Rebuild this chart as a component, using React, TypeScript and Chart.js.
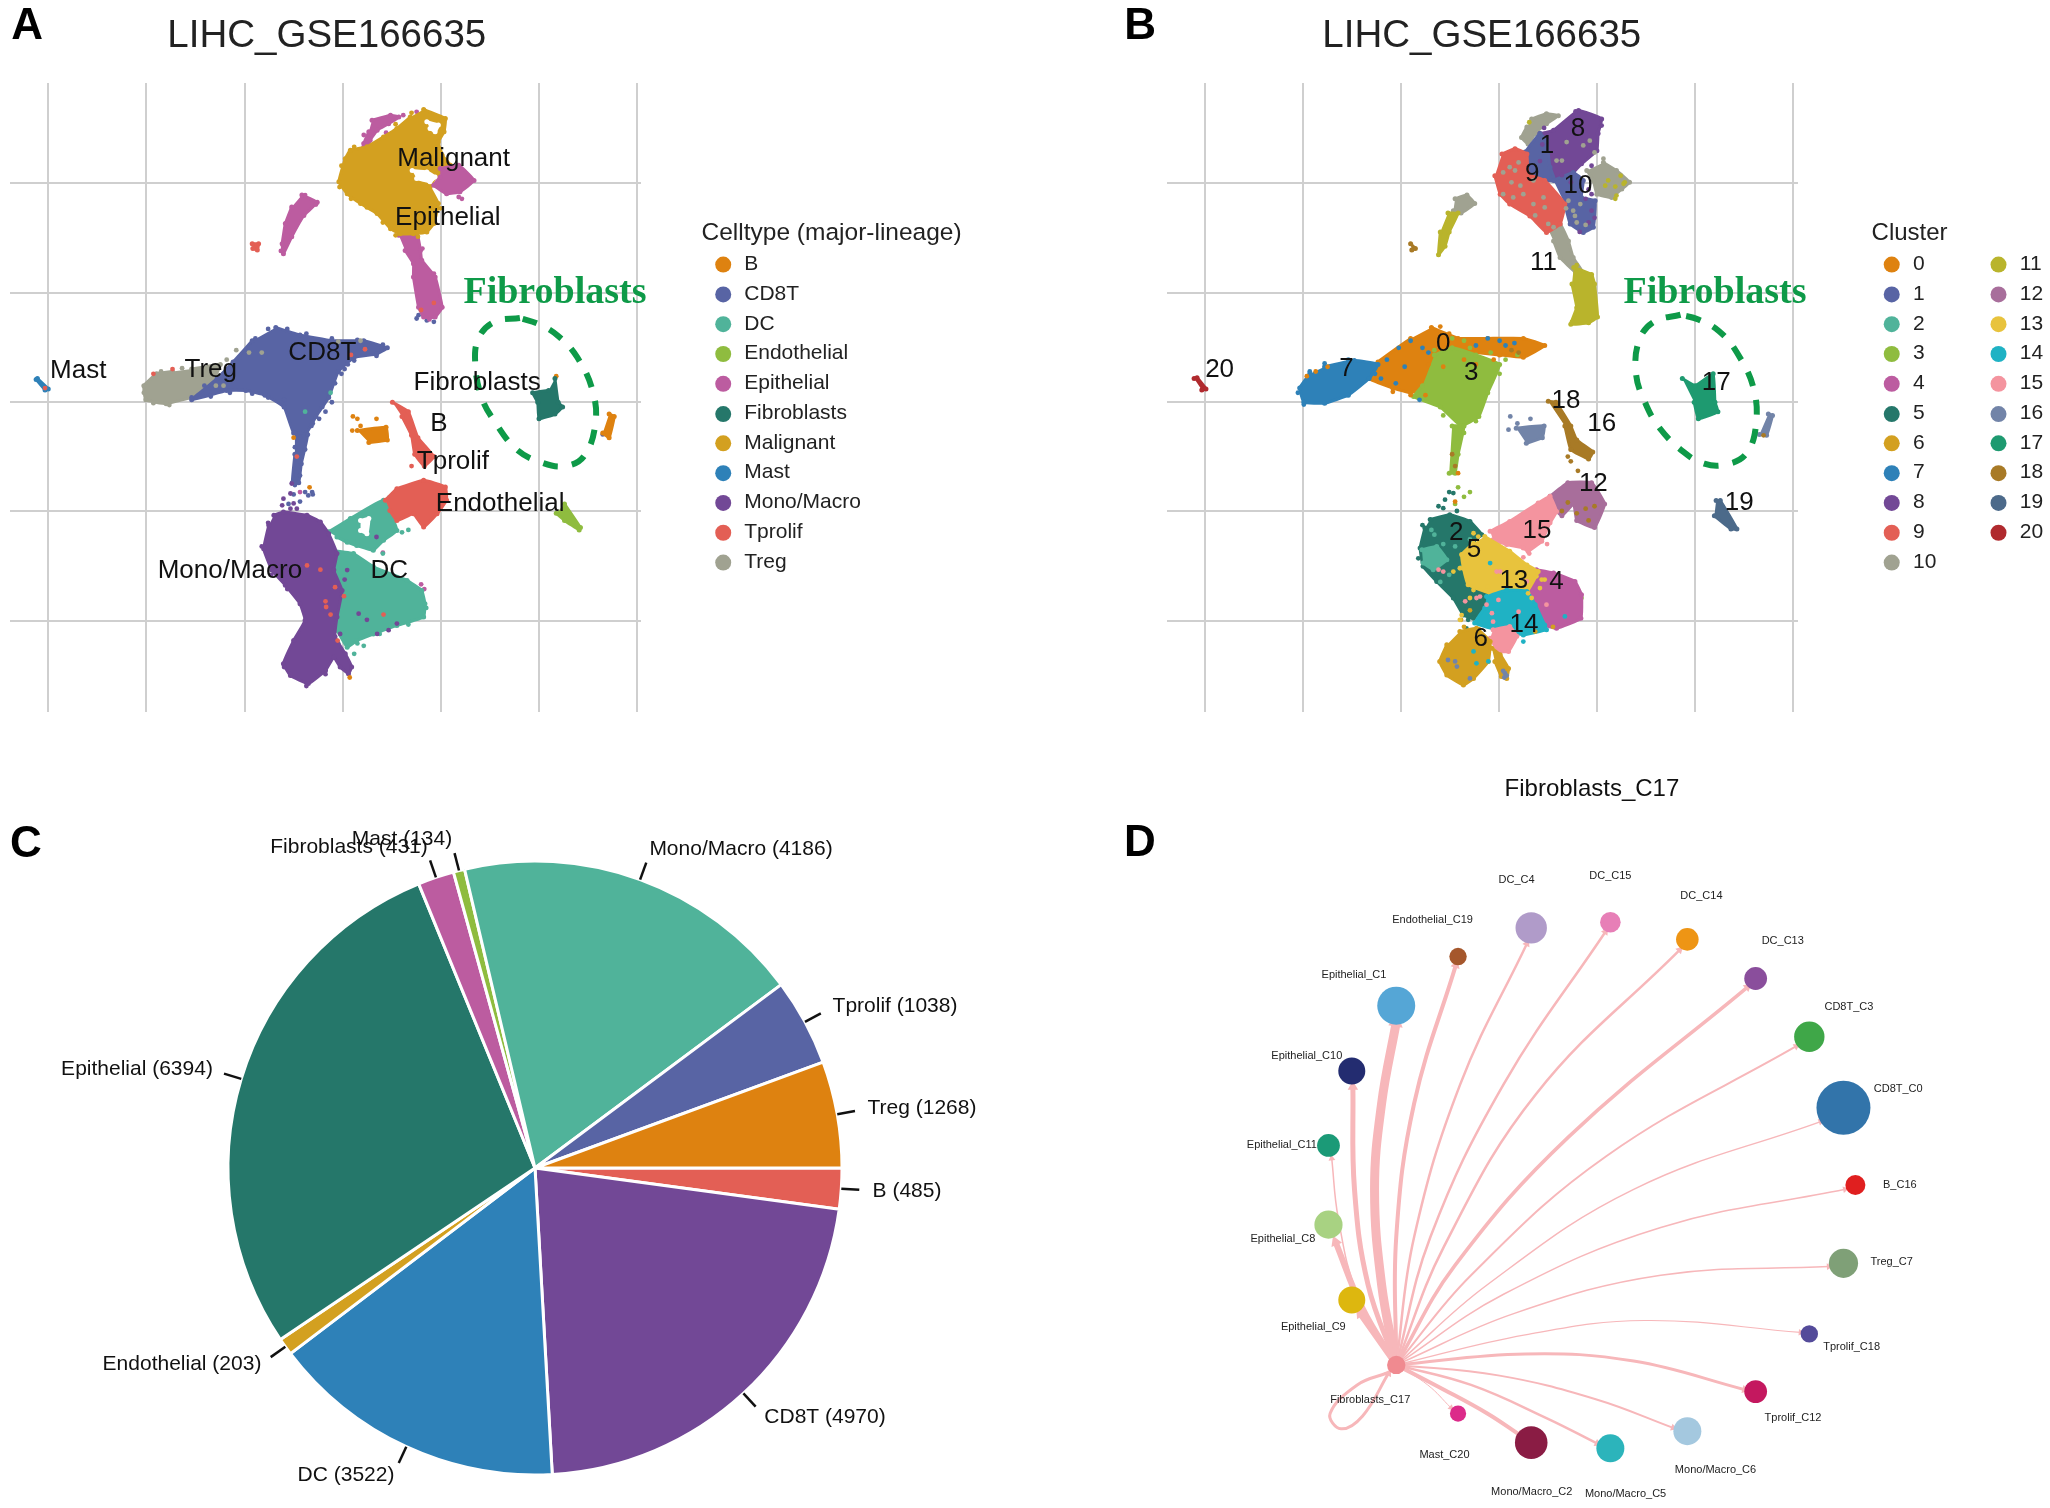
import React, { useEffect, useRef } from "react";
import { Chart, registerables } from "chart.js";
Chart.register(...registerables);

type Pt = number[];
const SANS = "'Liberation Sans'";
const SERIF = "'Liberation Serif'";

// ---------- shared colours ----------
const CB = "#DE8210", CCD8 = "#5864A4", CDC = "#50B39A", CEND = "#8FBC3F", CEPI = "#BC5CA0", CFIB = "#25776A";
const CMAL = "#D3A020", CMAST = "#2E81B8", CMONO = "#724896", CTP = "#E35F55", CTREG = "#A0A291";
const C11 = "#B9B42C", C12 = "#A86E9B", C13 = "#E8C33D", C14 = "#1FB2C4", C15 = "#F4949F", C16 = "#7284A8", C17 = "#1E9A70", C18 = "#A87A26", C19 = "#4C6A8A", C20 = "#B02A2E";
const GREEN = "#0E9A48";

// ---------- panel A values ----------
const aGridX = [75, 229, 383, 537, 691, 845, 998];
const aGridY = [387, 618, 849, 1081, 1313];
const aCelltypes = ["B", "CD8T", "DC", "Endothelial", "Epithelial", "Fibroblasts", "Malignant", "Mast", "Mono/Macro", "Tprolif", "Treg"];
const aCelltypeColors = [CB, CCD8, CDC, CEND, CEPI, CFIB, CMAL, CMAST, CMONO, CTP, CTREG];
const aEpiTop = [[583,254],[612,243],[625,247],[609,261],[591,275],[580,296],[575,314],[570,303],[578,278]];
const aEpiLobe = [[690,356],[719,349],[743,381],[721,405],[700,409],[680,391],[690,374]];
const aEpiTrunk = [[625,497],[653,490],[659,529],[661,550],[682,585],[693,649],[682,670],[664,670],[656,649],[648,585],[648,557],[635,529]];
const aEpiCrescent = [[473,412],[497,427],[476,455],[457,500],[444,536],[442,515],[447,472],[457,437]];
const aEpiDots = [[632,243],[653,236],[570,310],[719,416],[724,420],[662,525],[680,578],[478,412],[495,432],[440,530],[673,675],[605,280],[570,285],[470,1040],[600,1168],[660,1235],[665,1245]];
const aMalignant = [[664,231],[698,250],[696,278],[687,300],[693,328],[706,349],[685,370],[674,395],[687,430],[680,472],[669,490],[648,494],[627,494],[612,483],[591,451],[565,430],[544,409],[531,384],[541,335],[549,317],[575,310],[601,289],[622,271],[643,247]];
const aMalEdge = [[535,350],[532,395],[550,420],[575,438],[600,470],[620,497],[655,500],[690,440],[645,238],[620,262],[555,310],[690,320],[678,458]];
const aGapTop = [[669,257],[687,264],[682,278],[674,271]];
const aGapMid = [[646,360],[669,363],[682,374],[674,384],[653,377]];
const aGapDc = [[565,1100],[578,1096],[575,1128],[565,1121]];
const aCd8 = [[432,692],[470,708],[520,720],[570,720],[607,735],[590,748],[555,755],[530,785],[515,840],[495,880],[480,915],[460,915],[445,860],[415,835],[385,825],[355,825],[300,845],[340,800],[365,765],[395,720]];
const aCd8Stem = [[462,915],[482,918],[472,980],[468,1020],[458,1020],[462,960]];
const aCd8Dots = [[535,790],[545,770],[520,850],[510,870],[500,885],[490,895],[470,925],[462,945],[478,950],[468,975],[470,1005],[462,1025],[460,1045],[478,1040],[490,1045],[452,1065],[470,1060],[653,673],[656,666],[669,677],[680,680],[950,912],[945,918],[598,735],[483,1047],[489,1040]];
const aCd8Edge = [[300,840],[320,815],[350,790],[375,755],[400,715],[420,695],[450,695],[480,705],[520,715],[560,718],[600,728],[590,752],[555,762],[540,780],[525,810],[505,860],[488,900],[445,845],[420,840],[395,832],[360,830],[330,838]];
const aTreg = [[300,780],[345,770],[335,800],[310,835],[260,853],[228,845],[225,815],[245,790],[270,785]];
const aTregDots = [[370,740],[390,745],[355,760],[410,745],[530,722],[565,720],[350,815],[338,815],[252,785],[285,778],[225,830],[240,852],[265,856]];
const aMast = [[58,800],[75,822],[70,824],[56,802]];
const aDcMain = [[517,1163],[554,1170],[585,1198],[638,1227],[661,1248],[666,1276],[664,1304],[622,1322],[585,1340],[559,1354],[544,1368],[528,1332],[517,1311],[533,1255],[525,1198]];
const aDcStrip = [[515,1124],[549,1096],[601,1057],[622,1121],[601,1142],[585,1163],[559,1153],[544,1146],[528,1135]];
const aDcEdge = [[668,1285],[640,1320],[595,1340],[560,1360],[530,1360],[560,1145],[610,1052],[630,1125],[600,1170],[555,1382],[510,1365],[570,1365],[478,870],[518,830],[640,1120]];
const aMono = [[429,1089],[444,1082],[481,1089],[502,1103],[515,1128],[528,1170],[523,1205],[536,1248],[528,1304],[525,1346],[541,1382],[551,1410],[546,1424],[533,1410],[523,1389],[510,1417],[483,1445],[455,1428],[444,1403],[460,1354],[478,1311],[470,1276],[447,1237],[426,1205],[413,1160],[421,1110]];
const aMonoDots = [[457,1022],[455,1043],[444,1054],[442,1068],[460,1064],[455,1075],[465,1075],[544,1205],[562,1297],[533,1340],[591,1340],[622,1318],[609,1332],[540,1225],[575,1310],[420,1105],[410,1155],[425,1215],[450,1245],[445,1410],[480,1450],[510,1425],[455,1425],[590,1135]];
const aTprolifBlob = [[604,1057],[622,1033],[664,1015],[698,1029],[700,1057],[685,1086],[664,1114],[648,1086],[622,1100],[611,1079]];
const aTprolifTail = [[615,850],[640,870],[655,925],[680,965],[665,985],[650,960],[645,920],[630,880]];
const aTprolifSmall = [[395,515],[405,515],[403,528],[396,525]];
const aTprolifDots = [[481,1195],[502,1204],[525,1241],[510,1271],[511,1283],[518,1299],[539,1260],[601,1299],[529,1354],[240,790],[270,780],[550,750],[572,738],[465,965],[70,820],[645,985],[660,655],[680,640]];
const aBCell = [[560,910],[605,903],[607,930],[578,935]];
const aBRight = [[955,875],[963,880],[955,925],[945,915]];
const aBDots = [[553,880],[560,885],[565,900],[590,885],[552,910],[460,925],[485,1030],[548,1432],[872,795]];
const aFibro = [[870,800],[875,850],[882,860],[870,875],[845,885],[843,850],[835,830],[860,825]];
const aEndo = [[885,1065],[910,1115],[908,1120],[885,1100],[872,1085]];
const aEllipse = [[815,672],[775,680],[750,715],[745,770],[755,840],[775,890],[810,950],[850,978],[885,985],[915,965],[933,900],[930,830],[905,755],[875,710],[845,685],[815,672]];
const aLabels = [["Malignant",711,335],["Epithelial",702,460],["Fibroblasts",748,810],["Mast",122,783],["Treg",330,782],["CD8T",505,745],["B",688,895],["Tprolif",710,975],["Endothelial",784,1065],["Mono/Macro",360,1207],["DC",610,1207]] as [string, number, number][];

// ---------- panel B values ----------
const bGridX = [143, 308, 473, 639, 804, 969, 1135];
const bGridY = [387, 618, 849, 1081, 1313];
const bClusters = ["0","1","2","3","4","5","6","7","8","9","10","11","12","13","14","15","16","17","18","19","20"];
const bClusterColors = [CB, CCD8, CDC, CEND, CEPI, CFIB, CMAL, CMAST, CMONO, CTP, CTREG, C11, C12, C13, C14, C15, C16, C17, C18, C19, C20];
const b10Top = [[694,251],[719,240],[739,244],[719,261],[700,282],[688,304],[677,290],[686,268]];
const b10Lobe = [[815,343],[837,360],[859,385],[846,399],[829,417],[804,410],[798,381],[787,360]];
const b10Trunk = [[719,477],[742,473],[756,509],[764,544],[780,575],[768,575],[742,544],[731,509]];
const b10Cres = [[565,420],[585,412],[598,430],[575,450],[562,445]];
const b10Dots = [[646,364],[657,353],[666,360],[672,343],[646,410],[663,417],[680,410],[697,431],[714,417],[722,473],[731,480],[697,381],[716,438],[753,300],[745,339],[736,339],[781,307],[792,297],[756,424],[764,445],[776,431],[767,456],[752,440],[770,470],[785,475],[660,385],[675,392],[700,455],[815,335],[800,322]];
const b8 = [[708,282],[731,275],[773,233],[812,251],[806,282],[804,318],[778,346],[764,364],[736,378],[725,353],[719,297]];
const b1 = [[683,321],[708,282],[719,297],[725,353],[733,381],[708,381],[688,371]];
const b1Low = [[731,381],[764,364],[781,381],[778,417],[801,424],[798,480],[781,491],[759,473],[750,431]];
const b8Dots = [[785,420],[795,445],[790,470],[775,490],[760,385],[715,270],[745,370],[795,350],[790,400],[795,410],[800,460],[768,235],[812,265],[712,305],[708,340]];
const b9 = [[644,325],[666,314],[686,325],[688,367],[716,381],[750,431],[742,473],[719,491],[691,456],[657,431],[641,410],[632,371]];
const b11Cres = [[553,450],[570,450],[555,490],[548,520],[537,538],[540,490]];
const b11Trunk = [[765,565],[795,580],[800,600],[805,670],[790,682],[760,685],[770,650],[762,600]];
const b11Dots = [[823,381],[835,394],[818,392],[851,385],[849,388],[837,413],[835,420],[844,371],[690,258],[770,560],[762,680]];
const b18Small = [[490,515],[498,525],[492,528]];
const b7 = [[345,775],[395,762],[435,770],[420,800],[385,835],[345,852],[310,850],[303,820],[320,790]];
const b7Dots = [[450,760],[470,735],[490,720],[620,715],[640,720],[650,730],[600,730],[520,745],[440,800],[465,810],[310,855],[300,830],[320,785],[345,768],[385,760],[430,790],[480,775],[510,735],[665,725],[505,845]];
const b0 = [[525,692],[570,715],[620,715],[680,715],[716,730],[680,755],[640,750],[600,745],[560,740],[530,760],[510,820],[490,830],[460,820],[420,800],[435,765],[490,715]];
const b0Dots = [[330,785],[315,795],[350,775],[545,775],[520,770],[565,1060],[570,1000],[580,760],[600,770],[630,760],[515,835],[490,835],[460,828],[540,690],[555,705]];
const b3 = [[530,750],[560,735],[600,750],[640,770],[620,830],[605,880],[575,900],[540,860],[495,838],[510,815]];
const b3Trunk = [[560,900],[580,900],[570,960],[565,1000],[555,1000]];
const b3Dots = [[570,1030],[580,1050],[565,1065],[590,1040],[640,790],[650,760],[670,750],[776,1257],[778,1264],[560,715],[580,720],[530,740],[590,735],[625,745],[545,878],[600,890],[580,915],[570,935]];
const b20 = [[125,800],[130,798],[145,822],[138,824]];
const b16Mid = [[668,905],[715,900],[712,925],[685,937]];
const b16Right = [[1093,875],[1100,878],[1090,920],[1078,918]];
const b16Dots = [[658,880],[670,895],[692,885],[655,908],[553,1395],[568,1409],[565,1398],[649,1423],[590,1434],[648,1432],[652,1428],[646,1418]];
const b18 = [[722,848],[735,850],[760,900],[770,930],[797,955],[790,970],[760,950],[750,900]];
const b18Dots = [[755,965],[772,995],[760,975],[785,1075],[800,1070],[745,1080],[660,740],[672,745],[1085,920],[755,1062],[770,1085],[790,1100],[565,985],[560,960]];
const b12 = [[725,1049],[755,1020],[795,1020],[817,1065],[800,1115],[770,1100],[765,1065],[745,1090],[736,1081]];
const b15 = [[624,1123],[657,1102],[705,1063],[725,1049],[736,1081],[725,1105],[711,1144],[688,1165],[680,1158],[652,1151],[629,1141]];
const b15Low = [[629,1331],[657,1324],[669,1345],[655,1377],[638,1377],[624,1349]];
const b15Dots = [[618,1278],[627,1296],[607,1261],[638,1268],[641,1208],[635,1208],[686,1229],[537,1204],[545,1208],[582,1271],[601,1264],[629,1314],[672,1293],[719,1278],[680,1178],[690,1170],[720,1150]];
const b19 = [[1005,1058],[1012,1058],[1040,1118],[1030,1118],[1002,1090]];
const b17 = [[948,800],[970,815],[1000,790],[1003,850],[1008,870],[975,885],[968,850]];
const b5 = [[523,1098],[556,1088],[590,1102],[610,1130],[596,1144],[576,1172],[582,1208],[618,1257],[615,1285],[596,1307],[579,1300],[562,1264],[534,1229],[511,1197],[506,1158],[514,1116]];
const b5Dots = [[537,1070],[548,1056],[562,1042],[545,1074],[568,1080],[555,1040],[582,1289],[587,1310],[584,1328],[503,1180],[510,1110]];
const b2Patch = [[509,1162],[534,1155],[551,1183],[528,1204],[511,1190]];
const b2Dots = [[530,1130],[545,1150],[565,1155],[555,1215],[540,1230],[575,1200],[525,1120],[590,1140]];
const b13 = [[615,1134],[657,1165],[686,1194],[705,1208],[686,1250],[657,1250],[624,1254],[587,1236],[579,1201],[576,1172],[596,1148]];
const b13Dots = [[596,1127],[604,1134],[596,1247],[590,1264],[573,1201],[562,1208],[576,1300],[573,1310],[711,1225],[716,1225],[702,1218],[688,1254],[694,1264],[708,1243],[620,1240]];
const b4 = [[702,1204],[731,1211],[767,1229],[778,1257],[777,1307],[736,1328],[716,1321],[700,1278],[686,1250]];
const b14 = [[618,1261],[652,1247],[686,1250],[700,1278],[716,1321],[719,1331],[680,1342],[657,1335],[635,1331],[598,1317],[615,1285]];
const b14Dots = [[624,1190],[601,1402],[621,1398],[680,1356],[750,1303],[596,1377]];
const b6 = [[573,1335],[601,1328],[624,1356],[621,1398],[596,1434],[579,1448],[551,1427],[539,1398],[551,1363]];
const b6Tail = [[627,1370],[641,1384],[655,1413],[652,1434],[643,1430],[632,1398]];
const b6Dots = [[575,1310],[590,1290],[605,1330],[580,1325],[730,1325],[700,1335]];
const bEllipse = [[945,665],[900,680],[875,720],[870,790],[885,850],[910,905],[950,955],[985,980],[1020,982],[1055,960],[1072,900],[1068,820],[1040,745],[1010,700],[975,675],[945,665]];
const bLabels = [["8",772,272],["1",720,308],["9",695,368],["10",772,393],["11",714,555],["0",545,727],["3",592,787],["7",382,780],["20",168,781],["18",752,846],["16",812,895],["17",1005,808],["12",798,1022],["19",1044,1063],["15",703,1122],["2",567,1127],["5",597,1162],["13",664,1227],["4",736,1230],["14",681,1320],["6",608,1350]] as [string, number, number][];

// ---------- panel C values ----------
const pieCategories = ["B", "CD8T", "DC", "Endothelial", "Epithelial", "Fibroblasts", "Mast", "Mono/Macro", "Tprolif", "Treg"];
const pieValues = [485, 4970, 3522, 203, 6394, 431, 134, 4186, 1038, 1268];
const pieColors = [CTP, CMONO, CMAST, CMAL, CFIB, CEPI, CEND, CDC, CCD8, CB];
const pieLabelAnchors = [[907,431],[825,657],[346,715],[182,604],[137,309],[349,87],[402,79],[741,89],[895,246],[922,348]];

// ---------- panel D values ----------
const netNames = ["DC_C4","DC_C15","DC_C14","DC_C13","CD8T_C3","CD8T_C0","B_C16","Treg_C7","Tprolif_C18","Tprolif_C12","Mono/Macro_C6","Mono/Macro_C5","Mono/Macro_C2","Mast_C20","Fibroblasts_C17","Epithelial_C9","Epithelial_C8","Epithelial_C11","Epithelial_C10","Epithelial_C1","Endothelial_C19"];
const netX = [611,757,899,1025,1124,1187,1209,1187,1124,1025,899,757,611,476,362,280,237,237,280,362,476];
const netY = [352,340,376,458,580,729,891,1055,1203,1324,1407,1443,1431,1370,1268,1132,974,808,652,515,412];
const netSize = [15.7,10.3,11.3,11.4,15.2,27,10,14.6,8.7,11.4,14,14,16.3,8.1,9.2,13.5,14.1,11.4,13.5,19,8.7];
const netColors = ["#B09BC9","#E77FB7","#EE9515","#8A4E9C","#3FA748","#3274AA","#E01F1F","#7FA077","#544B9A","#C4185F","#A4C8DF","#2CB4BB","#8A1C44","#DC2B8A","#F08A90","#DDB70F","#A8D282","#1B9A77","#232C70","#55A6D6","#A5572C"];
const netLabelX = [584,757,925,1075,1197,1288,1291,1276,1202,1094,951,785,612,451,314,209,153,151,197,284,429];
const netLabelY = [252,243,284,379,517,689,890,1053,1230,1380,1488,1538,1534,1456,1342,1189,1003,808,620,451,336];
const edgeC4 = [[362,1268],[395,1000],[480,680],[603,385]];
const edgeC15 = [[362,1268],[425,1000],[560,680],[748,360]];
const edgeC14 = [[362,1268],[450,1020],[620,700],[885,398]];
const edgeC13 = [[362,1268],[470,1060],[680,790],[1010,476]];
const edgeC3 = [[362,1268],[500,1080],[750,830],[1100,600]];
const edgeC0 = [[362,1268],[530,1100],[800,900],[1145,758]];
const edgeB16 = [[362,1268],[560,1120],[850,980],[1190,900]];
const edgeTreg = [[362,1268],[580,1160],[850,1080],[1160,1062]];
const edgeC18 = [[362,1268],[600,1205],[820,1175],[1108,1200]];
const edgeC12 = [[362,1268],[600,1245],[800,1260],[1005,1320]];
const edgeC6 = [[362,1268],[550,1290],[730,1340],[873,1400]];
const edgeC5 = [[362,1268],[500,1310],[640,1380],[733,1433]];
const edgeC2 = [[362,1268],[450,1320],[530,1370],[590,1415]];
const edgeMast = [[362,1268],[420,1310],[463,1358]];
const edgeSelf = [[345,1285],[290,1310],[240,1370],[260,1402],[300,1375],[348,1285]];
const edgeE9 = [[362,1268],[295,1160]];
const edgeE8 = [[362,1268],[300,1150],[250,1010]];
const edgeE11 = [[362,1268],[290,1120],[255,960],[243,835]];
const edgeE10 = [[362,1268],[310,1100],[285,900],[282,685]];
const edgeE1 = [[362,1268],[335,1100],[322,900],[335,720],[362,550]];
const edgeE19 = [[362,1268],[362,1000],[395,720],[472,430]];
const netEdges = [edgeC4,edgeC15,edgeC14,edgeC13,edgeC3,edgeC0,edgeB16,edgeTreg,edgeC18,edgeC12,edgeC6,edgeC5,edgeC2,edgeMast,edgeSelf,edgeE9,edgeE8,edgeE11,edgeE10,edgeE1,edgeE19];
const netEdgeWeights = [2.5,2.5,2.5,3.5,2,1.5,1.5,1.5,1.2,3,2,2.5,4,1,3,6,6,1.5,5,9,4];

// ---------- layers ----------
type Layer = { color: string; shapes?: Pt[][]; dots?: Pt[] };
const panelALayers: Layer[] = [
  { color: CTREG, shapes: [aTreg] },
  { color: CCD8, shapes: [aCd8, aCd8Stem], dots: [...aCd8Dots, ...aCd8Edge] },
  { color: CEPI, shapes: [aEpiTop, aEpiTrunk, aEpiCrescent], dots: aEpiDots },
  { color: CMAL, shapes: [aMalignant], dots: aMalEdge },
  { color: "#FFFFFF", shapes: [aGapTop, aGapMid] },
  { color: CEPI, shapes: [aEpiLobe] },
  { color: CTREG, dots: aTregDots },
  { color: CMAST, shapes: [aMast] },
  { color: CDC, shapes: [aDcMain, aDcStrip], dots: aDcEdge },
  { color: "#FFFFFF", shapes: [aGapDc] },
  { color: CTP, shapes: [aTprolifBlob, aTprolifTail, aTprolifSmall] },
  { color: CMONO, shapes: [aMono], dots: aMonoDots },
  { color: CTP, dots: aTprolifDots },
  { color: CB, shapes: [aBCell, aBRight], dots: aBDots },
  { color: CFIB, shapes: [aFibro] },
  { color: CEND, shapes: [aEndo] },
];
const panelBLayers: Layer[] = [
  { color: CTREG, shapes: [b10Top, b10Lobe, b10Trunk, b10Cres] },
  { color: CMONO, shapes: [b8] },
  { color: CCD8, shapes: [b1, b1Low] },
  { color: CMONO, dots: b8Dots },
  { color: CTP, shapes: [b9] },
  { color: CTREG, dots: b10Dots },
  { color: C11, shapes: [b11Cres, b11Trunk], dots: b11Dots },
  { color: C18, shapes: [b18Small, b18] },
  { color: CB, shapes: [b0] },
  { color: CMAST, shapes: [b7] },
  { color: CEND, shapes: [b3, b3Trunk], dots: b3Dots },
  { color: CB, dots: b0Dots },
  { color: CMAST, dots: b7Dots },
  { color: C20, shapes: [b20] },
  { color: C16, shapes: [b16Mid, b16Right] },
  { color: C12, shapes: [b12] },
  { color: C15, shapes: [b15] },
  { color: C18, dots: b18Dots },
  { color: C19, shapes: [b19] },
  { color: C17, shapes: [b17] },
  { color: CFIB, shapes: [b5], dots: b5Dots },
  { color: CDC, shapes: [b2Patch], dots: b2Dots },
  { color: CEPI, shapes: [b4] },
  { color: C13, shapes: [b13] },
  { color: C14, shapes: [b14] },
  { color: C15, shapes: [b15Low], dots: b15Dots },
  { color: CMAL, shapes: [b6, b6Tail], dots: b6Dots },
  { color: C13, dots: b13Dots },
  { color: C14, dots: b14Dots },
  { color: C16, dots: b16Dots },
];

const toXY = (pts: Pt[]) => pts.map(([x, y]) => ({ x, y }));

function umapDatasets(layers: Layer[], ellipse: Pt[]) {
  const out: any[] = [];
  for (const l of layers) {
    for (const s of l.shapes || []) {
      out.push({ data: toXY(s), showLine: true, fill: "shape", backgroundColor: l.color, borderColor: l.color, borderWidth: 3, borderJoinStyle: "round", pointRadius: 2.5, pointBackgroundColor: l.color, pointBorderWidth: 0, tension: 0.1 });
    }
    if (l.dots) out.push({ data: toXY(l.dots), showLine: false, pointRadius: 2.4, pointBackgroundColor: l.color, pointBorderWidth: 0 });
  }
  out.push({ data: toXY(ellipse), showLine: true, fill: false, borderColor: GREEN, borderWidth: 6, borderDash: [15, 14], pointRadius: 0, tension: 0.4 });
  out.forEach((d, i) => (d.order = -i));
  return out;
}

type TextItem = { t: string; x: number; y: number; font: string; color?: string; align?: CanvasTextAlign };

const textsPlugin = (items: TextItem[], dots: { x: number; y: number; r: number; color: string }[] = []) => ({
  id: "panelTexts",
  afterDraw(chart: any) {
    const { ctx, scales } = chart;
    const px = (v: number) => (scales.x ? scales.x.getPixelForValue(v) : v);
    const py = (v: number) => (scales.y ? scales.y.getPixelForValue(v) : v);
    ctx.save();
    for (const d of dots) {
      ctx.fillStyle = d.color;
      ctx.beginPath();
      ctx.arc(px(d.x), py(d.y), d.r, 0, Math.PI * 2);
      ctx.fill();
    }
    ctx.textBaseline = "middle";
    for (const it of items) {
      ctx.font = it.font;
      ctx.fillStyle = it.color || "#111";
      ctx.textAlign = it.align || "center";
      ctx.fillText(it.t, px(it.x), py(it.y));
    }
    ctx.restore();
  },
});

const hiddenScale = (min: number, max: number, grid: number[], reverse = false) => ({
  type: "linear" as const,
  min,
  max,
  reverse,
  border: { display: false },
  grid: { color: "#cfcfcf", lineWidth: 2, drawTicks: false },
  ticks: { display: false },
  afterBuildTicks: (s: any) => { s.ticks = grid.map((value) => ({ value })); },
});

const W = 1025, H = 760, H2 = 748;
const ROWS = [558, 621, 684, 747, 810, 874, 936, 999, 1062, 1125, 1188];

function makeA(c: HTMLCanvasElement) {
  const labels = aLabels.map(([t, x, y]) => ({ t, x, y, font: `26px ${SANS}` }));
  const items: TextItem[] = [
    { t: "A", x: 42, y: 56, font: `bold 44px ${SANS}`, color: "#000" },
    { t: "LIHC_GSE166635", x: 512, y: 76, font: `38.5px ${SANS}`, color: "#222" },
    { t: "Fibroblasts", x: 870, y: 619, font: `bold 38px ${SERIF}`, color: GREEN },
    { t: "Celltype (major-lineage)", x: 1100, y: 492, font: `24.5px ${SANS}`, color: "#222", align: "left" },
    ...labels,
    ...aCelltypes.map((t, i) => ({ t, x: 1167, y: ROWS[i], font: `21px ${SANS}`, color: "#222", align: "left" as CanvasTextAlign })),
  ];
  const dots = aCelltypes.map((_, i) => ({ x: 1134, y: ROWS[i] + 1, r: 8, color: aCelltypeColors[i] }));
  return new Chart(c, {
    type: "line",
    data: { datasets: umapDatasets(panelALayers, aEllipse) },
    options: {
      responsive: false, animation: false, events: [],
      layout: { autoPadding: false, padding: { left: 10, right: W - 641, top: 83, bottom: H - 712 } },
      plugins: { legend: { display: false }, tooltip: { enabled: false }, title: { display: false } },
      scales: { x: hiddenScale(15, 1005, aGridX), y: hiddenScale(175, 1505, aGridY, true) },
    },
    plugins: [textsPlugin(items, dots)],
  } as any);
}

function makeB(c: HTMLCanvasElement) {
  const cols = bClusters.map((_, i) => (i < 11 ? { d: 1301, t: 1337, r: i } : { d: 1481, t: 1517, r: i - 11 }));
  const items: TextItem[] = [
    { t: "B", x: 34, y: 56, font: `bold 44px ${SANS}`, color: "#000" },
    { t: "LIHC_GSE166635", x: 610, y: 76, font: `38.5px ${SANS}`, color: "#222" },
    { t: "Fibroblasts", x: 1003, y: 619, font: `bold 38px ${SERIF}`, color: GREEN },
    { t: "Cluster", x: 1267, y: 492, font: `24px ${SANS}`, color: "#222", align: "left" },
    ...bLabels.map(([t, x, y]) => ({ t, x, y, font: `26px ${SANS}` })),
    ...bClusters.map((t, i) => ({ t, x: cols[i].t, y: ROWS[cols[i].r], font: `21px ${SANS}`, color: "#222", align: "left" as CanvasTextAlign })),
  ];
  const dots = bClusters.map((_, i) => ({ x: cols[i].d, y: ROWS[cols[i].r] + 1, r: 8, color: bClusterColors[i] }));
  return new Chart(c, {
    type: "line",
    data: { datasets: umapDatasets(panelBLayers, bEllipse) },
    options: {
      responsive: false, animation: false, events: [],
      layout: { autoPadding: false, padding: { left: 1167.4 - W, right: 2050 - 1798, top: 83, bottom: H - 712 } },
      plugins: { legend: { display: false }, tooltip: { enabled: false }, title: { display: false } },
      scales: { x: hiddenScale(80, 1143, bGridX), y: hiddenScale(175, 1505, bGridY, true) },
    },
    plugins: [textsPlugin(items, dots)],
  } as any);
}

const pieLeaders = {
  id: "pieLeaders",
  afterDraw(chart: any) {
    const { ctx } = chart;
    const arcs = chart.getDatasetMeta(0).data;
    ctx.save();
    ctx.strokeStyle = "#111";
    ctx.lineWidth = 2.5;
    arcs.forEach((a: any) => {
      const { x, y, outerRadius, startAngle, endAngle } = a.getProps(["x", "y", "outerRadius", "startAngle", "endAngle"], true);
      const m = (startAngle + endAngle) / 2;
      ctx.beginPath();
      ctx.moveTo(x + Math.cos(m) * outerRadius, y + Math.sin(m) * outerRadius);
      ctx.lineTo(x + Math.cos(m) * (outerRadius + 18), y + Math.sin(m) * (outerRadius + 18));
      ctx.stroke();
    });
    ctx.restore();
  },
};

function makeC(c: HTMLCanvasElement) {
  const items: TextItem[] = [
    { t: "C", x: 26, y: 85, font: `bold 44px ${SANS}`, color: "#000" },
    ...pieCategories.map((name, i) => ({ t: `${name} (${pieValues[i]})`, x: pieLabelAnchors[i][0], y: pieLabelAnchors[i][1], font: `21px ${SANS}` })),
  ];
  return new Chart(c, {
    type: "pie",
    data: { labels: pieCategories, datasets: [{ data: pieValues, backgroundColor: pieColors, borderColor: "#fff", borderWidth: 3 }] },
    options: {
      responsive: false, animation: false, events: [], rotation: 90, radius: 307,
      layout: { autoPadding: false, padding: { left: 225, right: W - 845, top: 98, bottom: H2 - 718 } },
      plugins: { legend: { display: false }, tooltip: { enabled: false } },
    },
    plugins: [pieLeaders, textsPlugin(items)],
  } as any);
}

function makeD(c: HTMLCanvasElement) {
  const edgeSets = netEdges.map((pts, i) => ({
    type: "line",
    data: toXY(pts),
    borderColor: "#F7B7BA",
    backgroundColor: "#F7B7BA",
    borderWidth: netEdgeWeights[i],
    tension: 0.4,
    fill: false,
    order: 2,
    pointStyle: "triangle",
    pointBorderWidth: 0,
    pointRadius: (ctx: any) => (ctx.dataIndex === pts.length - 1 ? 3 + netEdgeWeights[i] * 0.6 : 0),
    pointRotation: () => {
      const a = pts[pts.length - 2], b = pts[pts.length - 1];
      return (Math.atan2((b[1] - a[1]) / 2.096, (b[0] - a[0]) / 1.845) * 180) / Math.PI + 90;
    },
  }));
  const items: TextItem[] = [
    { t: "D", x: -111, y: 176, font: `bold 44px ${SANS}`, color: "#000" },
    { t: "Fibroblasts_C17", x: 723, y: 62, font: `24px ${SANS}`, color: "#111" },
    ...netNames.map((t, i) => ({ t, x: netLabelX[i], y: netLabelY[i], font: `11px ${SANS}`, color: "#222" })),
  ];
  return new Chart(c, {
    type: "bubble",
    data: {
      datasets: [
        {
          type: "bubble",
          order: 1,
          data: netNames.map((_, i) => ({ x: netX[i], y: netY[i], r: netSize[i] })),
          backgroundColor: netColors,
          borderWidth: 0,
        },
        ...edgeSets,
      ],
    },
    options: {
      responsive: false, animation: false, events: [],
      layout: { autoPadding: false, padding: { left: 175, right: 0, top: 0, bottom: 0 } },
      plugins: { legend: { display: false }, tooltip: { enabled: false } },
      scales: {
        x: { type: "linear", min: 0, max: 1568, display: false },
        y: { type: "linear", min: 0, max: 1568, reverse: true, display: false },
      },
    },
    plugins: [textsPlugin(items)],
  } as any);
}

const panels = [
  { make: makeA, left: 0, top: 0, w: W, h: H },
  { make: makeB, left: W, top: 0, w: W, h: H },
  { make: makeC, left: 0, top: H, w: W, h: H2 },
  { make: makeD, left: W, top: H, w: W, h: H2 },
];

function Panel({ make, left, top, w, h }: any) {
  const ref = useRef<HTMLCanvasElement>(null);
  useEffect(() => {
    const chart = make(ref.current);
    return () => chart.destroy();
  }, [make]);
  return <canvas ref={ref} width={w} height={h} style={{ position: "absolute", left, top, width: w, height: h }} />;
}

export default function App() {
  return (
    <div style={{ position: "absolute", left: 0, top: 0, width: 2050, height: 1508, background: "#fff", overflow: "hidden" }}>
      {panels.map((p, i) => <Panel key={i} {...p} />)}
    </div>
  );
}
